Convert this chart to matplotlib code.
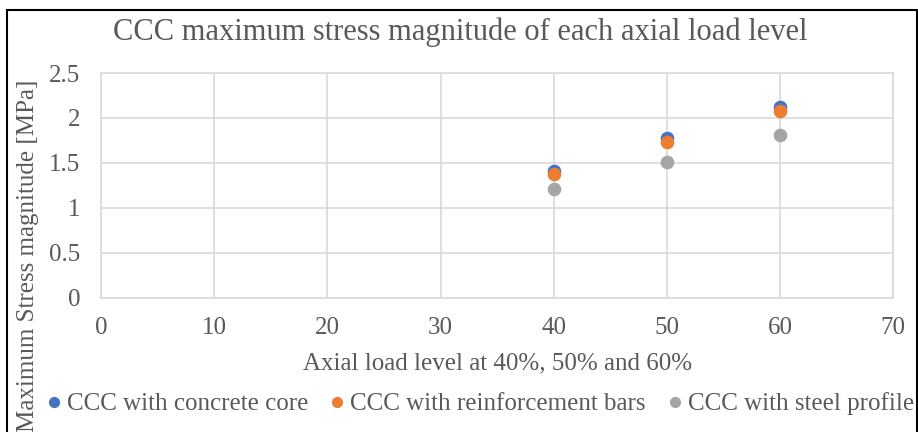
import matplotlib.pyplot as plt
from matplotlib.patches import Rectangle

plt.rcParams['font.family'] = ['Liberation Serif', 'DejaVu Serif']

load_levels = [40, 50, 60]
concrete_core = [1.41, 1.775, 2.125]
reinf_bars = [1.375, 1.735, 2.075]
steel_profile = [1.205, 1.505, 1.81]

series_names = ["CCC with concrete core", "CCC with reinforcement bars", "CCC with steel profile"]
series_colors = ["#4472C4", "#ED7D31", "#A5A5A5"]

txt = "#595959"
grid_c = "#D9D9D9"

fig = plt.figure(figsize=(9.18, 4.32), dpi=100)
ax = fig.add_axes([0.110, 0.311, 0.863, 0.520])

for vals, name, col in zip([concrete_core, reinf_bars, steel_profile], series_names, series_colors):
    ax.plot(load_levels, vals, "o", color=col, markersize=8.8, label=name, zorder=3)

ax.set_xlim(0, 70)
ax.set_ylim(0, 2.5)
ax.set_xticks(range(0, 71, 10))
ax.set_yticks([0, 0.5, 1, 1.5, 2, 2.5])
ax.set_yticklabels(["0", "0.5", "1", "1.5", "2", "2.5"])
ax.grid(True, color=grid_c, linewidth=1.2)
ax.set_axisbelow(True)
for s in ax.spines.values():
    s.set_color(grid_c)
    s.set_linewidth(1.2)
ax.tick_params(length=0, labelsize=18, colors=txt)
ax.tick_params(axis="x", pad=14)
ax.tick_params(axis="y", pad=15)

fig.text(460 / 918, 1 - 32 / 432, "CCC maximum stress magnitude of each axial load level",
         ha="center", va="center", fontsize=22, color=txt)
fig.text(497.5 / 918, 1 - 363 / 432, "Axial load level at 40%, 50% and 60%",
         ha="center", va="center", fontsize=18, color=txt)
fig.text(28 / 918, 1 - 256 / 432, "Maximum Stress magnitude [MPa]",
         ha="center", va="center", rotation=90, fontsize=18, color=txt)

fig.legend(loc="center left", bbox_to_anchor=(44 / 918, 1 - 404 / 432), ncol=3, frameon=False,
           fontsize=18, labelcolor=txt, markerscale=0.8, handletextpad=0.12,
           columnspacing=0.76, handlelength=0.8, borderpad=0, borderaxespad=0)

# chart border
fig.patches.append(Rectangle((7 / 918, -0.1), 910 / 918, 1.1 - 10 / 432, transform=fig.transFigure,
                             fill=False, edgecolor="black", linewidth=1.5))

fig.savefig("out.png", dpi=100)
